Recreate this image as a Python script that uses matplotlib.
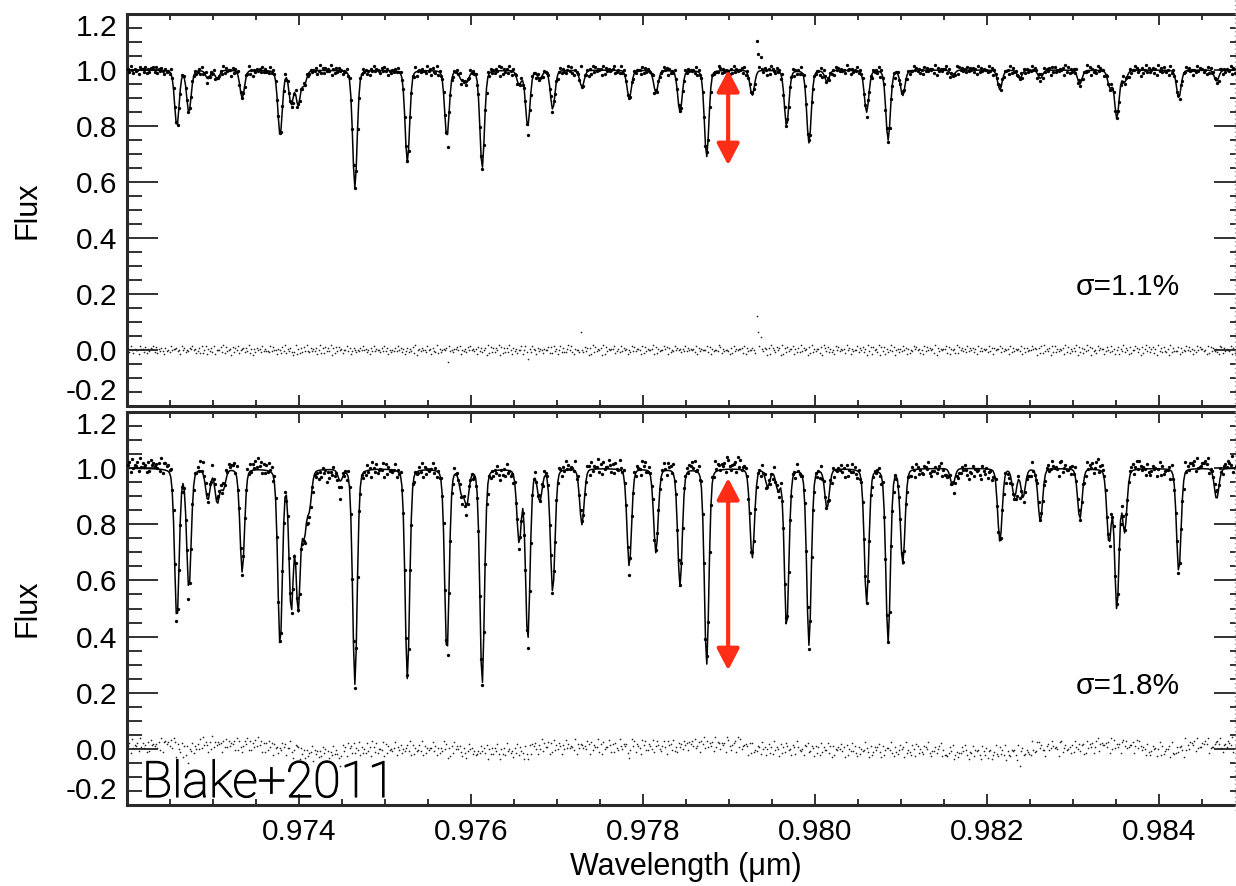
"""
Telluric spectrum fit, two epochs (Blake+2011 style figure).
Data points, model line and residuals for each panel; output out.png
"""

import numpy as np
import matplotlib.pyplot as plt
import matplotlib.patheffects as pe
from matplotlib.lines import Line2D

plt.rcParams['font.family'] = ['Liberation Sans', 'DejaVu Sans']
plt.rcParams['axes.unicode_minus'] = False

# ── line lists (centre in um, fractional depth) ───────────────────────────────
top_centres = [0.97258, 0.97272, 0.97294, 0.97305, 0.97334, 0.97378, 0.97391, 0.97399,
               0.97406, 0.97465, 0.97526, 0.97572, 0.97589, 0.97595, 0.97613, 0.97656,
               0.97666, 0.97680, 0.97695, 0.97729, 0.97784, 0.97815, 0.97843, 0.97874,
               0.97927, 0.97967, 0.97993, 0.98014, 0.98060, 0.98085, 0.98102, 0.98160,
               0.98215, 0.98238, 0.98262, 0.98308, 0.98343, 0.98351, 0.98360, 0.98423,
               0.98467]
top_depths = [0.20, 0.15, 0.03, 0.03, 0.10, 0.23, 0.12, 0.12,
              0.05, 0.42, 0.33, 0.24, 0.03, 0.04, 0.35, 0.05,
              0.20, 0.03, 0.14, 0.06, 0.10, 0.08, 0.15, 0.31,
              0.09, 0.20, 0.26, 0.04, 0.15, 0.25, 0.09, 0.02,
              0.07, 0.03, 0.03, 0.05, 0.06, 0.17, 0.04, 0.10,
              0.04]

bot_centres = [0.97258, 0.97272, 0.97294, 0.97305, 0.97312, 0.97334, 0.97378, 0.97391,
               0.97399, 0.97406, 0.97412, 0.97448, 0.97465, 0.97526, 0.97572, 0.97589,
               0.97595, 0.97613, 0.97656, 0.97666, 0.97680, 0.97695, 0.97729, 0.97784,
               0.97815, 0.97843, 0.97874, 0.97927, 0.97945, 0.97957, 0.97967, 0.97993,
               0.98014, 0.98060, 0.98085, 0.98102, 0.98160, 0.98215, 0.98232, 0.98242,
               0.98262, 0.98308, 0.98342, 0.98351, 0.98360, 0.98423, 0.98467]
bot_depths = [0.54, 0.43, 0.11, 0.12, 0.07, 0.37, 0.63, 0.50,
              0.50, 0.22, 0.13, 0.04, 0.77, 0.75, 0.66, 0.08,
              0.12, 0.77, 0.26, 0.61, 0.11, 0.44, 0.20, 0.35,
              0.30, 0.42, 0.70, 0.32, 0.06, 0.07, 0.57, 0.63,
              0.14, 0.48, 0.62, 0.34, 0.06, 0.26, 0.10, 0.10,
              0.19, 0.18, 0.26, 0.50, 0.22, 0.37, 0.11]

line_fwhm = 0.000062
lorentz_frac = 0.2

# points sitting well off the model (cosmic ray, core mismatch)
top_spike_wave = [0.97393, 0.97572, 0.97666, 0.97727, 0.97932, 0.97934, 0.97936]
top_spike_off = [-0.03, -0.03, -0.03, 0.05, 0.12, 0.07, 0.05]
bot_spike_wave = [0.97258, 0.97272, 0.97334, 0.97378, 0.97393, 0.97448, 0.97572,
                  0.97595, 0.97666, 0.97784, 0.98238]
bot_spike_off = [-0.05, -0.04, -0.03, -0.025, -0.055, -0.06, -0.025,
                 -0.06, -0.035, -0.035, -0.04]

# slow drift of the lower residuals: level per wavelength range
bot_drift_edges = [0.9724, 0.9726, 0.9728, 0.9736, 0.9740, 0.9745, 0.9760, 0.9767,
                   0.9785, 0.9792, 0.9800, 0.9815, 0.9825, 0.9832, 0.9838, 0.9843]
bot_drift_level = [0.010, 0.018, -0.005, 0.016, 0.005, -0.016, 0.000, -0.008, 0.008,
                   0.016, 0.000, -0.004, -0.013, 0.004, 0.013, -0.004, 0.014]

# residual scatter, one digit per pixel; each digit stands for a level (in
# units of sigma), the same string read backwards adds a finer detail
digit_level = [-2.0, -1.59, -0.97, -0.59, -0.28, 0.0, 0.28, 0.59, 0.97, 1.59]
top_resid_digits = (
    "6385274619573826475938264751836294758361947253869472"
    "4728359164738256483927465183749265837492615384729364"
    "5293846175384926573849162738495273648159372846591738"
    "3847265938147526384957261839475628394715263849572614"
    "7364829157384629571834926357481936275849163728495736"
    "2846357192846375918264739518372649158347296518374265"
    "5738294615837426958317462953847162938475619283746592"
    "4629385716294837561928374659182736495817263948572639"
    "3857462918375649281736459827364518293746582917364852"
    "6294738516297438561927384659172839465718293746528197"
    "4837261958374629581736492857361948275639184726359481"
    "5726394817263958472619384756291837465928174639285746"
    "3948572619384756293817465928374619283756491827364958"
    "6173829465718392647581938264759183726495817362948571"
    "4862937158264937518264973518269473582619473852619374"
    "5381726495837162948573619284756319827465391827465938"
)
bot_resid_digits = (
    "4719365829473618295746382915746382957463918275649382"
    "6283947516293847561829374658192736485917263849571628"
    "3958174629385716492837561948273659184726395817264938"
    "5274836195728364917253846197382564918273645917382645"
    "7391826457391826475938162749583617294857316294857362"
    "2648573916482759316482957361849275318469275831649275"
    "5817293648517293846529173864529718364592718364952718"
    "4396285714396827541968327549168732594186739251847396"
    "6175839246175938264719385264719832567193824657192834"
    "3862947158362947518362974518629743518692475183629475"
    "5937182647593718264957318264597318246579318247659318"
    "4258671935428619735428769315482679153426879135246879"
    "7316492857319648257136942857391642857319468257631942"
    "2985743168259746318925743618295473681295746138925746"
    "6471928354617938245671392845761932485716928345671932"
    "3746851924367581924376859124367859214738659124376589"
)
top_sigma = 0.010
bot_sigma = 0.015

sigma_labels = ["σ=1.1%", "σ=1.8%"]
arrow_wave = 0.97899
arrow_span = [(1.0, 0.66), (0.965, 0.28)]

y_ticks = [-0.2, 0.0, 0.2, 0.4, 0.6, 0.8, 1.0, 1.2]
y_labels = ["-0.2", "0.0", "0.2", "0.4", "0.6", "0.8", "1.0", "1.2"]
x_ticks = [0.974, 0.976, 0.978, 0.980, 0.982, 0.984]
x_labels = ["0.974", "0.976", "0.978", "0.980", "0.982", "0.984"]


def spectrum(centres, depths, digits, sigma, spike_wave, spike_off,
             drift_edges=None, drift_level=None):
    lev = np.array([digit_level[int(c)] for c in digits])
    res = (lev + 0.2 * lev[::-1]) * sigma
    wave = np.linspace(0.97201, 0.98499, len(res))
    if drift_edges is not None:
        res += np.array(drift_level)[np.searchsorted(drift_edges, wave)]
    sig = line_fwhm / 2.3548
    hw = line_fwhm / 2
    model = np.ones_like(wave)
    for c, dep in zip(centres, depths):
        dx = wave - c
        prof = (1 - lorentz_frac) * np.exp(-0.5 * (dx / sig) ** 2) \
            + lorentz_frac / (1 + (dx / hw) ** 2)
        model *= 1 - dep * prof
    for w, o in zip(spike_wave, spike_off):
        res[np.argmin(np.abs(wave - w))] += o
    return wave, model, res


W, H = 1236, 886
fig = plt.figure(figsize=(W / 100, H / 100), dpi=100)


def px_axes(l, t, r, b):
    return fig.add_axes([l / W, 1 - b / H, (r - l) / W, (b - t) / H])


ax_top = px_axes(127, 14, 1245, 406)
ax_bot = px_axes(127, 412, 1245, 805)

panels = [
    (ax_top, spectrum(top_centres, top_depths, top_resid_digits, top_sigma,
                      top_spike_wave, top_spike_off)),
    (ax_bot, spectrum(bot_centres, bot_depths, bot_resid_digits, bot_sigma,
                      bot_spike_wave, bot_spike_off, bot_drift_edges, bot_drift_level)),
]

for i, (ax, (wave, model, res)) in enumerate(panels):
    ax.plot(wave, model, color="k", lw=1.1, zorder=2)
    ax.plot(wave, model + res, "o", ms=2.4, mew=0, color="k", zorder=3)
    ax.plot(wave, res, "o", ms=1.2, mew=0, color="#222222", zorder=3)

    ax.set_xlim(0.972, 0.985)
    ax.set_ylim(-0.2, 1.2)
    ax.set_yticks(y_ticks, y_labels)
    ax.set_yticks(np.arange(-0.2, 1.2001, 0.05), minor=True)
    ax.set_xticks(x_ticks, x_labels)
    ax.set_xticks(np.arange(0.9725, 0.98501, 0.0005), minor=True)

    ax.tick_params(axis="both", which="both", direction="in", top=True, right=True,
                   width=1.3, color="#222222", labelsize=21.5)
    ax.tick_params(axis="y", which="major", length=22, pad=7)
    ax.tick_params(axis="y", which="minor", length=11)
    ax.tick_params(axis="x", which="major", length=8, pad=9)
    ax.tick_params(axis="x", which="minor", length=4.5)
    if i == 0:
        ax.tick_params(axis="x", labelbottom=False)

    ylabs = ax.get_yticklabels()
    ylabs[0].set_va("bottom")
    ylabs[-1].set_va("top")

    for sp in ax.spines.values():
        sp.set_linewidth(2.2)
        sp.set_color("#2a2a2a")

    ax.text(0.98364, 0.225, sigma_labels[i], ha="center", va="center", fontsize=21.5)

    hi, lo = arrow_span[i]
    ax.annotate("", xy=(arrow_wave, lo), xytext=(arrow_wave, hi),
                arrowprops=dict(arrowstyle="<|-|>,head_length=0.65,head_width=0.34",
                                color="#ff2d16", lw=3, mutation_scale=20,
                                shrinkA=0, shrinkB=0), zorder=5)

fig.text(28 / W, 1 - 210 / H, "Flux", rotation=90, ha="center", va="center", fontsize=22)
fig.text(28 / W, 1 - 608 / H, "Flux", rotation=90, ha="center", va="center", fontsize=22)
fig.text(686 / W, 1 - 867 / H, "Wavelength (μm)", ha="center", va="center", fontsize=22)
fig.text(142 / W, 1 - 797 / H, "Blake+2011", ha="left", va="baseline", fontsize=36,
         family=["Roboto", "DejaVu Sans"], fontweight="light",
         path_effects=[pe.withStroke(linewidth=0.9, foreground="black")])

fig.add_artist(Line2D([1235 / W, 1235 / W], [1.0, 1 - 810 / H], color="#9a9a9a",
                      lw=0.9, ls=(0, (1, 2.5))))

fig.savefig("out.png", dpi=100)
